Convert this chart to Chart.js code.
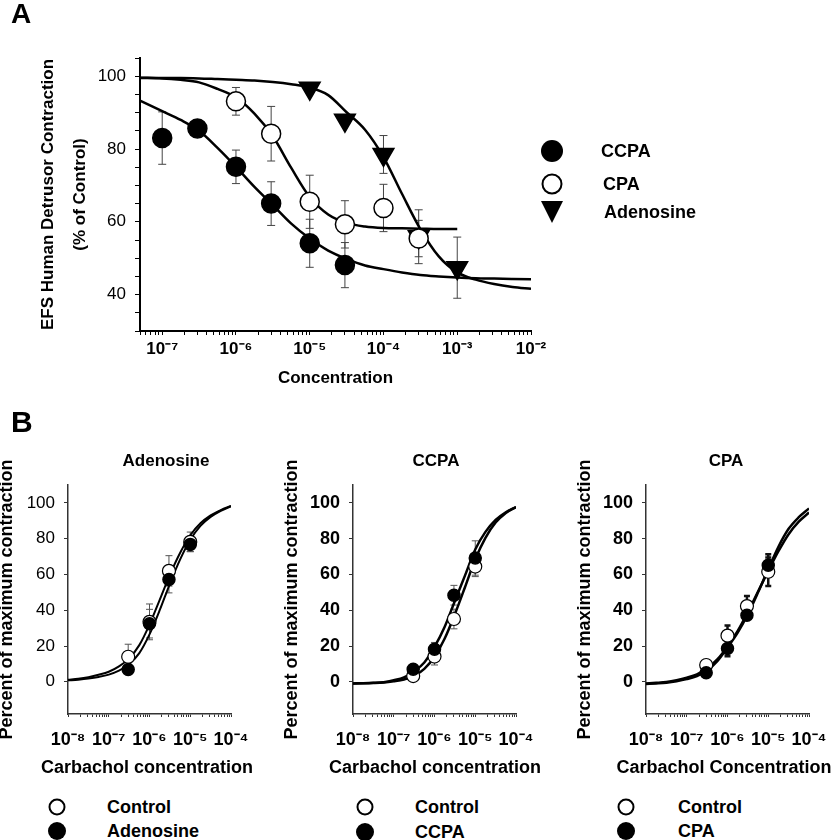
<!DOCTYPE html>
<html>
<head>
<meta charset="utf-8">
<script src="https://cdn.jsdelivr.net/npm/chart.js@4.4.0/dist/chart.umd.min.js"></script>
<style>
  html, body { margin: 0; padding: 0; background: #fff; overflow: hidden; }
  #page { position: relative; width: 840px; height: 840px; overflow: hidden; font-family: "Liberation Sans", Arial, sans-serif; color: #000; }
  canvas { position: absolute; }
  .txt { position: absolute; font-weight: bold; line-height: 1; white-space: nowrap; transform: translateY(-50%); }
  .mid { transform: translate(-50%, -50%); }
  .dot { position: absolute; border-radius: 50%; box-sizing: border-box; transform: translate(-50%, -50%); }
  .fill { background: #000; }
  .open { background: #fff; border: 2px solid #000; }
  .tri { position: absolute; width: 0; height: 0; border-left: 11px solid transparent; border-right: 11px solid transparent; border-top: 22px solid #000; }
</style>
</head>
<body>
<div id="page">
  <canvas id="chartA" width="840" height="400" style="left:0;top:0"></canvas>
  <canvas id="chartB1" width="280" height="340" style="left:-2px;top:440px"></canvas>
  <canvas id="chartB2" width="280" height="340" style="left:283px;top:440px"></canvas>
  <canvas id="chartB3" width="280" height="340" style="left:576px;top:440px"></canvas>

  <div class="txt" style="left:11px;top:14px;font-size:28px">A</div>
  <div class="txt" style="left:11px;top:422px;font-size:30px">B</div>

  <!-- legend A -->
  <div class="dot fill" style="left:552px;top:151px;width:22px;height:22px"></div>
  <div class="txt" style="left:601px;top:151px;font-size:18px">CCPA</div>
  <div class="dot open" style="left:552px;top:184px;width:21px;height:21px"></div>
  <div class="txt" style="left:603px;top:184px;font-size:18px">CPA</div>
  <div class="tri" style="left:541px;top:201px"></div>
  <div class="txt" style="left:604px;top:212px;font-size:18px">Adenosine</div>

  <!-- panel B titles -->
  <div class="txt mid" style="left:166px;top:460px;font-size:17px">Adenosine</div>
  <div class="txt mid" style="left:436px;top:460px;font-size:17px">CCPA</div>
  <div class="txt mid" style="left:726px;top:460px;font-size:17px">CPA</div>

  <!-- panel B x-axis titles -->
  <div class="txt mid" style="left:147px;top:767px;font-size:18px">Carbachol concentration</div>
  <div class="txt mid" style="left:435px;top:767px;font-size:18px">Carbachol concentration</div>
  <div class="txt mid" style="left:724px;top:767px;font-size:18px">Carbachol Concentration</div>

  <!-- panel B legends -->
  <div class="dot open" style="left:57px;top:807px;width:17px;height:17px"></div>
  <div class="txt" style="left:107px;top:807px;font-size:18px">Control</div>
  <div class="dot fill" style="left:57px;top:831px;width:18px;height:18px"></div>
  <div class="txt" style="left:107px;top:831px;font-size:18px">Adenosine</div>

  <div class="dot open" style="left:365px;top:807px;width:17px;height:17px"></div>
  <div class="txt" style="left:415px;top:807px;font-size:18px">Control</div>
  <div class="dot fill" style="left:365px;top:832px;width:18px;height:18px"></div>
  <div class="txt" style="left:415px;top:832px;font-size:18px">CCPA</div>

  <div class="dot open" style="left:626px;top:807px;width:17px;height:17px"></div>
  <div class="txt" style="left:678px;top:807px;font-size:18px">Control</div>
  <div class="dot fill" style="left:626px;top:831px;width:18px;height:18px"></div>
  <div class="txt" style="left:678px;top:831px;font-size:18px">CPA</div>
</div>

<script>
// ---- panel A data ----
const aDecades = [-7, -6, -5, -4, -3, -2];
const aYLabels = [40, 60, 80, 100];

const ccpaConc = [1e-7, 3e-7, 1e-6, 3e-6, 1e-5, 3e-5];
const ccpaPct  = [83.0, 85.6, 75.1, 65.0, 54.1, 48.1];
const ccpaErr  = [7.2, 0, 4.6, 6.0, 6.6, 6.2];

const cpaConc = [1e-6, 3e-6, 1e-5, 3e-5, 1e-4, 3e-4];
const cpaPct  = [93.1, 84.2, 65.5, 59.3, 63.8, 55.4];
const cpaErr  = [3.8, 7.5, 7.3, 6.5, 6.5, 5.0];

const adoConc = [1e-5, 3e-5, 1e-4, 3e-4, 1e-3];
const adoPct  = [96.7, 87.9, 78.5, 55.9, 47.4];
const adoErr  = [0, 0, 5.2, 7.4, 8.4];

// fitted curves at quarter decades
const aFitConc = [5e-8, 1e-7, 1.78e-7, 3.16e-7, 5.62e-7, 1e-6, 1.78e-6, 3.16e-6, 5.62e-6, 1e-5, 1.78e-5,
                  3.16e-5, 5.62e-5, 1e-4, 1.78e-4, 3.16e-4, 5.62e-4, 1e-3, 1.78e-3, 3.16e-3, 5.62e-3, 1e-2];
const ccpaFit = [93.3, 90.4, 88.0, 85.0, 80.3, 75.1, 69.6, 64.6, 59.5, 55.4, 52.1,
                 49.8, 48.0, 47.0, 46.1, 45.4, 45.0, 44.7, 44.5, 44.4, 44.3, 44.2];
const cpaFit  = [99.5, 99.4, 99.0, 98.3, 96.5, 94.2, 89.7, 83.5, 74.8, 66.8, 62.0,
                 59.7, 58.7, 58.3, 58.2, 58.1, 58.0, 58.0];
const adoFit  = [99.6, 99.5, 99.5, 99.4, 99.2, 99.0, 98.8, 98.4, 97.8, 96.9, 94.8,
                 90.1, 85.3, 77.8, 67.7, 58.0, 50.5, 46.1, 44.1, 42.9, 42.1, 41.6];

// ---- panel B data ----
const bDecades = [-8, -7, -6, -5, -4];
const bYTicks = [0, 20, 40, 60, 80, 100];
const bConc = [3e-7, 1e-6, 3e-6, 1e-5];
const bFitConc = [1e-8, 1.78e-8, 3.16e-8, 5.62e-8, 1e-7, 1.78e-7, 3.16e-7, 5.62e-7, 1e-6,
                  1.78e-6, 3.16e-6, 5.62e-6, 1e-5, 1.78e-5, 3.16e-5, 5.62e-5, 1e-4];

// Adenosine
const b1CtrlPct = [14.0, 33.5, 62.0, 78.2];
const b1CtrlErr = [7.0, 10.0, 8.5, 5.5];
const b1DrugPct = [6.9, 32.5, 57.2, 76.8];
const b1DrugErr = [0, 8.0, 7.5, 4.0];
const b1CtrlFit = [1.1, 1.7, 2.6, 3.9, 5.6, 8.6, 13.1, 20.5, 32.0, 45.8, 59.8, 72.0, 81.9, 88.6, 93.0, 96.0, 98.3];
const b1DrugFit = [0.8, 1.2, 1.8, 2.7, 4.0, 6.2, 9.8, 16.0, 26.5, 40.0, 54.8, 68.3, 79.4, 87.2, 92.2, 95.6, 98.1];

// CCPA
const b2CtrlPct = [3.2, 14.1, 35.1, 64.4];
const b2CtrlErr = [0, 4.7, 5.5, 5.6];
const b2DrugPct = [7.0, 18.2, 48.4, 69.2];
const b2DrugErr = [0, 3.8, 5.5, 9.6];
const b2CtrlFit = [-0.9, -0.85, -0.7, -0.4, 0.3, 1.3, 3.3, 7.2, 14.0, 24.2, 37.8, 53.0, 68.5, 80.5, 89.0, 94.4, 97.7];
const b2DrugFit = [-0.9, -0.8, -0.6, -0.2, 0.9, 2.5, 5.8, 10.8, 19.5, 30.8, 45.2, 59.5, 74.0, 83.8, 90.5, 94.8, 97.7];

// CPA
const b3CtrlPct = [9.4, 25.8, 42.3, 61.5];
const b3CtrlErr = [0, 5.6, 5.6, 8.0];
const b3DrugPct = [5.0, 18.6, 37.2, 65.2];
const b3DrugErr = [0, 4.3, 2.4, 6.1];
const b3CtrlFit = [-1.0, -0.6, -0.1, 0.9, 2.3, 4.2, 7.5, 12.5, 19.8, 28.5, 39.0, 50.5, 62.0, 73.0, 82.5, 89.5, 94.6];
const b3DrugFit = [-1.2, -0.9, -0.5, 0.3, 1.5, 3.2, 6.3, 11.5, 19.2, 27.5, 37.8, 50.0, 63.0, 75.5, 85.5, 92.0, 96.9];

// ---- helpers ----
const FONT = '"Liberation Sans", Arial, sans-serif';
Chart.defaults.font.family = FONT;
Chart.defaults.color = '#000';

const sup = {'-': '\u207B', '0': '\u2070', '1': '\u00B9', '2': '\u00B2', '3': '\u00B3', '4': '\u2074',
             '5': '\u2075', '6': '\u2076', '7': '\u2077', '8': '\u2078', '9': '\u2079'};

const pts = (xs, ys) => ys.map((y, i) => ({x: xs[i], y}));

function decadeLabel(decades) {
  return v => {
    const l = Math.log10(v), e = Math.round(l);
    if (Math.abs(l - e) > 1e-6 || !decades.includes(e)) return '';
    return '10' + String(e).split('').map(c => sup[c]).join('');
  };
}

// drop the 1.5 x 10^n ticks chart.js adds on log axes
function wholeMantissa(scale) {
  scale.ticks = scale.ticks.filter(t => {
    const m = t.value / Math.pow(10, Math.floor(Math.log10(t.value) + 1e-9));
    return Math.abs(m - Math.round(m)) < 1e-6;
  });
}

const errorBars = {
  id: 'errorBars',
  beforeDatasetsDraw(chart) {
    const {ctx, scales: {x, y}} = chart;
    chart.data.datasets.forEach(ds => {
      if (!ds.errors) return;
      ctx.save();
      ctx.strokeStyle = ds.errColor;
      ctx.lineWidth = ds.errWidth;
      ds.data.forEach((p, i) => {
        const e = ds.errors[i];
        if (!e) return;
        const px = x.getPixelForValue(p.x);
        const top = y.getPixelForValue(p.y + e);
        const bot = y.getPixelForValue(p.y - e);
        const c = ds.cap;
        ctx.beginPath();
        ctx.moveTo(px, top); ctx.lineTo(px, bot);
        ctx.moveTo(px - c, top); ctx.lineTo(px + c, top);
        ctx.moveTo(px - c, bot); ctx.lineTo(px + c, bot);
        ctx.stroke();
      });
      ctx.restore();
    });
  }
};

function marks(data, errors, o) {
  return Object.assign({
    data, errors, showLine: false, order: 0,
    pointStyle: 'circle', pointBorderColor: '#000', pointBorderWidth: 1.5,
    errColor: '#444', errWidth: 1, cap: 4
  }, o);
}

function curve(data, width) {
  return {
    data, showLine: true, pointRadius: 0, borderColor: '#000', borderWidth: width,
    cubicInterpolationMode: 'monotone', order: 1
  };
}

// ---- panel A ----
new Chart(document.getElementById('chartA'), {
  type: 'scatter',
  data: {
    datasets: [
      marks(pts(ccpaConc, ccpaPct), ccpaErr, {pointRadius: 9.5, pointBackgroundColor: '#000', cap: 4}),
      marks(pts(cpaConc, cpaPct), cpaErr, {pointRadius: 9.5, pointBackgroundColor: '#fff', cap: 4}),
      marks(pts(adoConc, adoPct), adoErr, {pointStyle: 'triangle', pointRotation: 180, pointRadius: 12,
                                           pointBackgroundColor: '#000', cap: 4}),
      curve(pts(aFitConc, ccpaFit), 2.5),
      curve(pts(aFitConc, cpaFit), 2.5),
      curve(pts(aFitConc, adoFit), 2.5)
    ]
  },
  options: {
    responsive: false, animation: false, events: [],
    layout: {padding: {left: 30, right: 309, top: 58, bottom: 0}},
    plugins: {legend: {display: false}, tooltip: {enabled: false}},
    scales: {
      x: {
        type: 'logarithmic', min: 5e-8, max: 1e-2,
        afterBuildTicks: wholeMantissa,
        afterFit: s => { s.height = 69; },
        border: {display: true, color: '#000', width: 2},
        grid: {drawOnChartArea: false, drawTicks: true, tickLength: 4, color: '#000'},
        ticks: {autoSkip: false, maxRotation: 0, padding: 4, callback: decadeLabel(aDecades),
                font: {size: 17, weight: 'bold'}},
        title: {display: true, text: 'Concentration', font: {size: 17, weight: 'bold'},
                padding: {top: 0, bottom: 11}}
      },
      y: {
        min: 30, max: 105,
        afterFit: s => { s.width = 110; },
        border: {display: true, color: '#000', width: 2},
        grid: {drawOnChartArea: false, drawTicks: true, tickLength: 5, color: '#000'},
        ticks: {stepSize: 5, autoSkip: false, padding: 9, font: {size: 17},
                callback: v => aYLabels.includes(v) ? v : ''},
        title: {display: true, text: ['EFS Human Detrusor Contraction', '(% of Control)'],
                font: {size: 17, weight: 'bold', lineHeight: 32 / 17}, padding: {top: 2, bottom: 0}}
      }
    }
  },
  plugins: [errorBars]
});

// ---- panel B ----
function bChart(id, ctrlPct, ctrlErr, drugPct, drugErr, ctrlFit, drugFit, yBold, lineW, err) {
  new Chart(document.getElementById(id), {
    type: 'scatter',
    data: {
      datasets: [
        marks(pts(bConc, drugPct), drugErr, Object.assign({pointRadius: 6, pointBackgroundColor: '#000'}, err)),
        marks(pts(bConc, ctrlPct), ctrlErr, Object.assign({pointRadius: 6.5, pointBackgroundColor: '#fff',
                                                           pointBorderWidth: 1.2}, err)),
        curve(pts(bFitConc, drugFit), lineW),
        curve(pts(bFitConc, ctrlFit), lineW)
      ]
    },
    options: {
      responsive: false, animation: false, events: [],
      layout: {padding: {left: 0, right: 47, top: 45, bottom: 0}},
      plugins: {legend: {display: false}, tooltip: {enabled: false}},
      scales: {
        x: {
          type: 'logarithmic', min: 1e-8, max: 1e-4,
          afterBuildTicks: wholeMantissa,
          afterFit: s => { s.height = 66; },
          border: {display: true, color: '#333', width: 1.5},
          grid: {drawOnChartArea: false, drawTicks: true, tickLength: 3, color: '#333'},
          ticks: {autoSkip: false, maxRotation: 0, padding: 12, callback: decadeLabel(bDecades),
                  font: {size: 18, weight: 'bold'}}
        },
        y: {
          min: -18, max: 110,
          afterBuildTicks: s => { s.ticks = bYTicks.map(v => ({value: v})); },
          afterFit: s => { s.width = 70; },
          border: {display: true, color: '#333', width: 1.5},
          grid: {drawOnChartArea: false, drawTicks: true, tickLength: 4, color: '#333'},
          ticks: {autoSkip: false, padding: 9,
                  font: yBold ? {size: 18, weight: 'bold'} : {size: 17}},
          title: {display: true, text: 'Percent of maximum contraction', font: {size: 18, weight: 'bold'},
                  padding: {top: -2, bottom: 0}}
        }
      }
    },
    plugins: [errorBars]
  });
}

const thinErr = {errColor: '#555', errWidth: 1, cap: 3.5};
const thickErr = {errColor: '#111', errWidth: 2.5, cap: 3};

bChart('chartB1', b1CtrlPct, b1CtrlErr, b1DrugPct, b1DrugErr, b1CtrlFit, b1DrugFit, false, 2, thinErr);
bChart('chartB2', b2CtrlPct, b2CtrlErr, b2DrugPct, b2DrugErr, b2CtrlFit, b2DrugFit, true, 2.5, thinErr);
bChart('chartB3', b3CtrlPct, b3CtrlErr, b3DrugPct, b3DrugErr, b3CtrlFit, b3DrugFit, true, 2.5, thickErr);
</script>
</body>
</html>
